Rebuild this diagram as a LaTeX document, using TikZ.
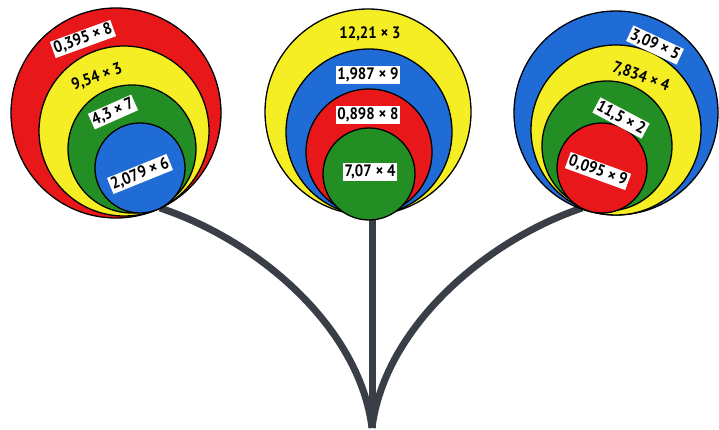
\documentclass[tikz,border=0pt]{standalone}
\usepackage{fontspec}
\setsansfont{PT Sans}[FakeStretch=0.9]
\definecolor{rojo}{RGB}{232,24,26}
\definecolor{amarillo}{RGB}{246,238,36}
\definecolor{verde}{RGB}{34,142,36}
\definecolor{azul}{RGB}{32,108,214}
\definecolor{tallo}{RGB}{58,62,70}
\tikzset{
  globo/.style={draw=black, line width=1.3pt},
  rama/.style={draw=tallo, line width=7pt},
  etiqueta/.style={fill=white, inner sep=1.5pt, font=\sffamily\bfseries\fontsize{16.5}{16.5}\selectfont},
  cifra/.style={inner sep=0.5pt, font=\sffamily\bfseries\fontsize{16.5}{16.5}\selectfont}
}
\begin{document}
\begin{tikzpicture}[x=1pt,y=-1pt]
  \useasboundingbox[fill=white] (0,0) rectangle (719,430);
  % Tallos
  \coordinate (base) at (372,428);
  \coordinate (izq) at (160,208);
  \coordinate (centro) at (372,215);
  \coordinate (der) at (582,208);
  \draw[rama] (izq) .. controls (262,242) and (360,330) .. (base);
  \draw[rama] (centro) -- (base);
  \draw[rama] (der) .. controls (482,242) and (384,330) .. (base);
  % Ramo izquierdo
  \filldraw[globo, fill=rojo] (116,113) circle (105pt);
  \filldraw[globo, fill=amarillo] (124,131) circle (85pt);
  \filldraw[globo, fill=verde] (132,149) circle (64pt);
  \filldraw[globo, fill=azul] (140,168) circle (45pt);
  \node[etiqueta, rotate=20] (a1) at (83,39) {0,395 × 8};
  \node[cifra, rotate=20] (a2) at (97,77) {9,54 × 3};
  \node[etiqueta, rotate=24] (a3) at (113,112) {4,3 × 7};
  \node[etiqueta, rotate=22] (a4) at (140,174) {2,079 × 6};
  % Ramo central
  \filldraw[globo, fill=amarillo] (368,112) circle (103pt);
  \filldraw[globo, fill=azul] (369,132) circle (83pt);
  \filldraw[globo, fill=rojo] (369,152) circle (63pt);
  \filldraw[globo, fill=verde] (369,174) circle (46pt);
  \node[cifra] (b1) at (370,34) {12,21 × 3};
  \node[etiqueta] (b2) at (368,75) {1,987 × 9};
  \node[etiqueta] (b3) at (368,115) {0,898 × 8};
  \node[etiqueta] (b4) at (370,172) {7,07 × 4};
  % Ramo derecho
  \filldraw[globo, fill=azul] (616,113) circle (102pt);
  \filldraw[globo, fill=amarillo] (616,130) circle (85pt);
  \filldraw[globo, fill=verde] (607,146) circle (65pt);
  \filldraw[globo, fill=rojo] (602,168) circle (45pt);
  \node[etiqueta, rotate=-25] (c1) at (655,45) {3,09 × 5};
  \node[cifra, rotate=-20] (c2) at (641,77) {7,834 × 4};
  \node[etiqueta, rotate=-28] (c3) at (621,118) {11,5 × 2};
  \node[etiqueta, rotate=-20] (c4) at (598,171) {0,095 × 9};
\end{tikzpicture}
\end{document}
